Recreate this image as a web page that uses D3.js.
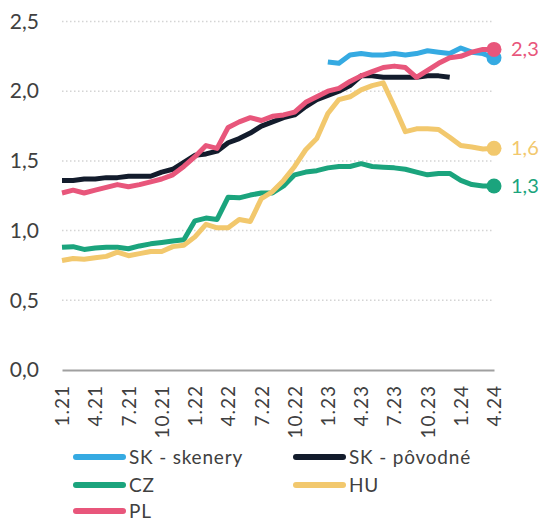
<!DOCTYPE html>
<html>
<head>
<meta charset="utf-8">
<script src="https://cdn.jsdelivr.net/npm/d3@7"></script>
<style>
  body { margin: 0; background: #fff; }
  svg { display: block; font-family: Lato, 'Open Sans', sans-serif; }
</style>
</head>
<body>
<svg id="chart" width="541" height="523"></svg>
<script>
// months 1.21 .. 4.24
const months = [
  '1.21','2.21','3.21','4.21','5.21','6.21','7.21','8.21','9.21','10.21','11.21','12.21',
  '1.22','2.22','3.22','4.22','5.22','6.22','7.22','8.22','9.22','10.22','11.22','12.22',
  '1.23','2.23','3.23','4.23','5.23','6.23','7.23','8.23','9.23','10.23','11.23','12.23',
  '1.24','2.24','3.24','4.24'
];
const tickLabels = ['1.21','4.21','7.21','10.21','1.22','4.22','7.22','10.22','1.23','4.23','7.23','10.23','1.24','4.24'];

const skSkenery = [
  null,null,null,null,null,null,null,null,null,null,null,null,
  null,null,null,null,null,null,null,null,null,null,null,null,
  2.21,2.20,2.26,2.27,2.26,2.26,2.27,2.26,2.27,2.29,2.28,2.27,
  2.31,2.28,2.27,2.24
];
const skPovodne = [
  1.36,1.36,1.37,1.37,1.38,1.38,1.39,1.39,1.39,1.42,1.44,1.49,
  1.54,1.55,1.57,1.63,1.66,1.70,1.75,1.78,1.81,1.83,1.89,1.94,
  1.97,2.00,2.04,2.11,2.11,2.10,2.10,2.10,2.10,2.11,2.11,2.10,
  null,null,null,null
];
const cz = [
  0.88,0.885,0.865,0.875,0.88,0.88,0.87,0.89,0.905,0.915,0.925,0.935,
  1.07,1.09,1.08,1.24,1.235,1.255,1.27,1.27,1.32,1.40,1.42,1.43,
  1.45,1.46,1.46,1.48,1.46,1.455,1.45,1.44,1.42,1.40,1.41,1.41,
  1.36,1.33,1.32,1.32
];
const hu = [
  0.785,0.80,0.795,0.805,0.815,0.845,0.82,0.835,0.85,0.85,0.885,0.895,
  0.955,1.045,1.02,1.02,1.08,1.065,1.23,1.28,1.36,1.46,1.58,1.66,
  1.84,1.94,1.96,2.01,2.04,2.06,1.89,1.71,1.73,1.73,1.725,1.67,
  1.61,1.60,1.585,1.59
];
const pl = [
  1.27,1.29,1.27,1.29,1.31,1.33,1.315,1.33,1.35,1.37,1.40,1.46,
  1.53,1.61,1.59,1.74,1.78,1.81,1.79,1.82,1.83,1.85,1.92,1.96,
  2.00,2.02,2.07,2.11,2.14,2.17,2.18,2.17,2.10,2.15,2.20,2.24,
  2.25,2.28,2.30,2.30
];

const series = [
  { name: 'SK - skenery', values: skSkenery, color: '#35aae2', end: false },
  { name: 'SK - pôvodné', values: skPovodne, color: '#131c2c', end: false },
  { name: 'CZ', values: cz, color: '#1ba47d', end: true },
  { name: 'HU', values: hu, color: '#f2c86d', end: true },
  { name: 'PL', values: pl, color: '#e8567b', end: true }
];

const fmt = d3.formatLocale({ decimal: ',', thousands: ' ', grouping: [3], currency: ['', ''] }).format('.1f');

const svg = d3.select('#chart');

const x = d3.scalePoint().domain(months).range([62, 494]);
const y = d3.scaleLinear().domain([0, 2.5]).range([370, 21.5]);

// grid lines
svg.append('g').attr('class', 'grid')
  .selectAll('line')
  .data([0.5, 1, 1.5, 2, 2.5])
  .join('line')
  .attr('x1', 62).attr('x2', 494)
  .attr('y1', d => y(d)).attr('y2', d => y(d))
  .attr('stroke', '#d4d4d4')
  .attr('stroke-width', 1.5)
  .attr('stroke-dasharray', '1.5,2.5');

// y axis
const yAxis = svg.append('g')
  .attr('transform', 'translate(39,0)')
  .call(d3.axisLeft(y).tickValues([0, 0.5, 1, 1.5, 2, 2.5]).tickSize(0).tickPadding(0).tickFormat(fmt));
yAxis.select('.domain').remove();
yAxis.selectAll('text')
  .attr('fill', '#404040')
  .attr('font-size', '21px')
  .attr('font-family', 'Lato, sans-serif');

// x axis
const xAxis = svg.append('g')
  .attr('transform', `translate(0,${y(0)})`)
  .call(d3.axisBottom(x).tickValues(tickLabels).tickSize(0));
xAxis.select('.domain')
  .attr('stroke', '#a0a0a0')
  .attr('stroke-width', 2);
xAxis.selectAll('text')
  .attr('fill', '#404040')
  .attr('font-size', '19px')
  .attr('letter-spacing', '1px')
  .attr('font-family', 'Lato, sans-serif')
  .attr('text-anchor', 'end')
  .attr('dy', '0.35em')
  .attr('transform', 'translate(0,15) rotate(-90)')
  .attr('x', 0)
  .attr('y', 0);

// lines
const line = d3.line()
  .defined(d => d != null)
  .x((d, i) => x(months[i]))
  .y(d => y(d));

const linesGroup = svg.append('g').attr('class', 'lines');
series.forEach(s => {
  linesGroup.append('path')
    .datum(s.values)
    .attr('fill', 'none')
    .attr('stroke', s.color)
    .attr('stroke-width', 5)
    .attr('stroke-linejoin', 'round')
    .attr('stroke-linecap', 'butt')
    .attr('d', line);
});

// end markers (SK - skenery also gets a dot, partly hidden behind PL)
const endSeries = [series[0], series[2], series[3], series[4]];
const last = months.length - 1;
endSeries.forEach(s => {
  svg.append('circle')
    .attr('cx', x(months[last]))
    .attr('cy', y(s.values[last]))
    .attr('r', 7.5)
    .attr('fill', s.color);
});
series.filter(s => s.end).forEach(s => {
  svg.append('text')
    .attr('x', x(months[last]) + 17)
    .attr('y', y(s.values[last]))
    .attr('dy', '0.35em')
    .attr('fill', s.color)
    .attr('font-size', '20px')
    .text(fmt(s.values[last]));
});

// legend
const legendItems = [
  { s: series[0], lx: 76, ly: 457 },
  { s: series[1], lx: 296, ly: 457 },
  { s: series[2], lx: 76, ly: 485 },
  { s: series[3], lx: 296, ly: 485 },
  { s: series[4], lx: 76, ly: 511 }
];
const legend = svg.append('g').attr('class', 'legend');
legendItems.forEach(item => {
  legend.append('line')
    .attr('x1', item.lx).attr('x2', item.lx + 47)
    .attr('y1', item.ly).attr('y2', item.ly)
    .attr('stroke', item.s.color)
    .attr('stroke-width', 6)
    .attr('stroke-linecap', 'round');
  legend.append('text')
    .attr('x', item.lx + 53)
    .attr('y', item.ly)
    .attr('dy', '0.35em')
    .attr('fill', '#404040')
    .attr('font-size', '19px')
    .attr('letter-spacing', '0.8px')
    .text(item.s.name);
});
</script>
</body>
</html>
